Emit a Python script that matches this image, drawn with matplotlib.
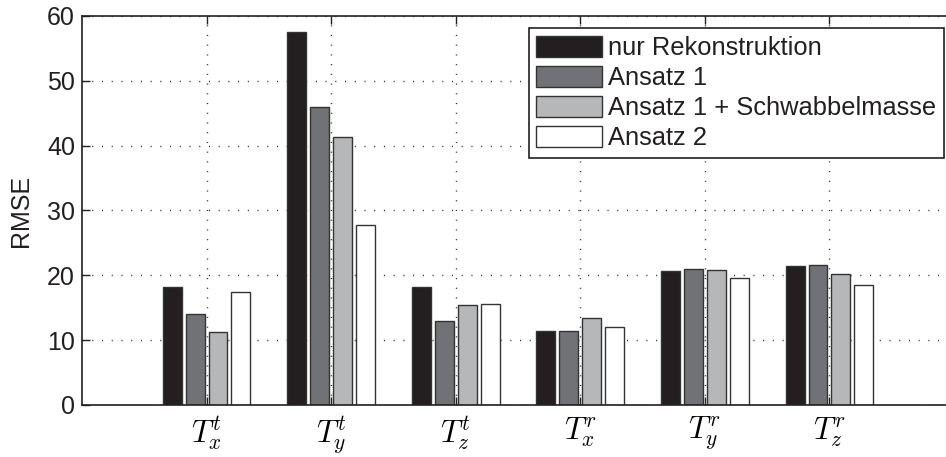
import numpy as np
import matplotlib
matplotlib.use("Agg")
import matplotlib.pyplot as plt

plt.rcParams['font.family'] = ['Liberation Sans', 'DejaVu Sans']
plt.rcParams['mathtext.fontset'] = 'cm'

categories = [r'$T_x^t$', r'$T_y^t$', r'$T_z^t$', r'$T_x^r$', r'$T_y^r$', r'$T_z^r$']
series_names = ['nur Rekonstruktion', 'Ansatz 1', 'Ansatz 1 + Schwabbelmasse', 'Ansatz 2']

nur_rekonstruktion = [18.25, 57.5, 18.25, 11.45, 20.7, 21.45]
ansatz1 = [14.1, 46.0, 12.9, 11.45, 20.95, 21.6]
ansatz1_schwabbel = [11.25, 41.4, 15.5, 13.4, 20.8, 20.2]
ansatz2 = [17.4, 27.8, 15.6, 12.0, 19.55, 18.45]

series = [nur_rekonstruktion, ansatz1, ansatz1_schwabbel, ansatz2]
colors = ['#231f20', '#707276', '#b6b7b9', '#ffffff']
txt = '#231f20'

fig = plt.figure(figsize=(9.46, 4.57), dpi=100)
ax = fig.add_axes([82/946, 52/457, (954-82)/946, (405-16)/457])

x = np.arange(1, len(categories) + 1)
pitch = 0.184
width = 0.152
for k, (vals, name, c) in enumerate(zip(series, series_names, colors)):
    ax.bar(x + (k - 1.5) * pitch, vals, width, color=c, edgecolor='#333333',
           linewidth=1.0, label=name, zorder=2)

ax.set_xlim(0, 7)
ax.set_ylim(0, 60)
ax.set_yticks(np.arange(0, 61, 10))
ax.set_xticks(x)
ax.set_xticklabels(categories, fontsize=22)
ax.tick_params(axis='y', labelsize=18, colors=txt, pad=5)
ax.tick_params(direction='in', top=True, right=True, length=6, width=1, color=txt)
ax.tick_params(axis='x', pad=7)
ax.set_ylabel('RMSE', fontsize=18, color=txt, labelpad=10)

ax.grid(True, linestyle=(0, (0.8, 6.2)), color='#333333', linewidth=1.0, zorder=0)
ax.set_axisbelow(True)
for s in ax.spines.values():
    s.set_color(txt)
    s.set_linewidth(1.2)

leg = ax.legend(loc='upper right', bbox_to_anchor=((944-82)/872, 1 - 12/389),
                fontsize=18.4, fancybox=False, framealpha=1, edgecolor=txt,
                handlelength=2.58, handleheight=0.9, handletextpad=0.23,
                labelspacing=0.22, borderpad=0.3, borderaxespad=0)
leg.get_frame().set_linewidth(1.2)
for t in leg.get_texts():
    t.set_color(txt)

fig.savefig('out.png', dpi=100)
